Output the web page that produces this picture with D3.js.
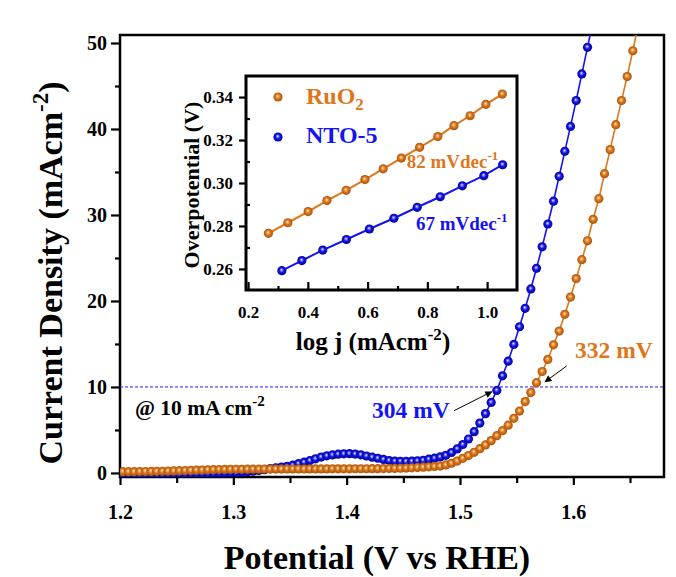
<!DOCTYPE html>
<meta charset="utf-8">
<style>
body { margin: 0; background: #fff; }
text { font-family: "Liberation Serif", "Times New Roman", serif; font-weight: bold; }
.axis path { display: none; }
.axis line { stroke: #000; stroke-width: 2.2; }
.axis text { fill: #000; }
</style>
<body>
<script src="https://d3js.org/d3.v7.min.js"></script>
<script>

// LSV data, potential in V vs RHE, current density in mA cm-2
var potential = [
  1.2025,1.2075,1.2125,1.2175,1.2225,1.2275,1.2325,1.2375,1.2425,1.2475,
  1.2525,1.2575,1.2625,1.2675,1.2725,1.2775,1.2825,1.2875,1.2925,1.2975,
  1.3025,1.3075,1.3125,1.3175,1.3225,1.3275,1.3325,1.3375,1.3425,1.3475,
  1.3525,1.3575,1.3625,1.3675,1.3725,1.3775,1.3825,1.3875,1.3925,1.3975,
  1.4025,1.4075,1.4125,1.4175,1.4225,1.4275,1.4325,1.4375,1.4425,1.4475,
  1.4525,1.4575,1.4625,1.4675,1.4725,1.4775,1.4825,1.4875,1.4925,1.4975,
  1.5025,1.5075,1.5125,1.5175,1.5225,1.5275,1.5325,1.5375,1.5425,1.5475,
  1.5525,1.5575,1.5625,1.5675,1.5725,1.5775,1.5825,1.5875,1.5925,1.5975,
  1.6025,1.6075,1.6125,1.6175,1.6225,1.6275,1.6325,1.6375,1.6425,1.6475,
  1.6525,1.6575
];
var currentRuO2 = [
  0.15,0.15,0.15,0.16,0.17,0.18,0.19,0.20,0.22,0.24,
  0.26,0.28,0.30,0.32,0.34,0.36,0.38,0.40,0.41,0.42,
  0.43,0.43,0.44,0.44,0.44,0.45,0.45,0.45,0.45,0.46,
  0.46,0.46,0.46,0.47,0.47,0.47,0.47,0.48,0.48,0.48,
  0.48,0.49,0.49,0.49,0.50,0.50,0.51,0.52,0.53,0.55,
  0.57,0.60,0.63,0.67,0.71,0.75,0.80,0.93,1.13,1.38,
  1.70,2.02,2.40,2.82,3.26,3.76,4.33,4.92,5.56,6.35,
  7.2,8.3,9.35,10.5,11.8,13.2,14.9,16.5,18.45,20.45,
  22.6,24.8,27.0,29.5,31.9,34.8,37.6,40.5,43.3,46.1,
  49.1,52.3
];
var currentNTO = [
  -0.20,-0.20,-0.19,-0.19,-0.18,-0.17,-0.16,-0.15,-0.14,-0.13,
  -0.12,-0.11,-0.10,-0.09,-0.07,-0.05,-0.03,-0.01,0.01,0.03,
  0.05,0.08,0.13,0.20,0.30,0.38,0.50,0.60,0.68,0.77,
  0.90,1.08,1.25,1.43,1.64,1.85,1.99,2.10,2.18,2.22,
  2.24,2.20,2.11,1.97,1.84,1.71,1.57,1.44,1.38,1.36,
  1.35,1.37,1.41,1.48,1.60,1.72,1.86,2.05,2.38,2.80,
  3.30,3.95,4.80,5.80,6.90,8.20,9.60,11.3,13.0,14.95,
  17.0,19.15,21.4,23.8,26.3,28.95,31.6,34.5,37.4,40.3,
  43.3,46.4,49.5,52.6
];

// Tafel inset data
var logjRuO2 = [0.268,0.333,0.401,0.464,0.528,0.591,0.652,0.713,0.774,0.835,0.889,0.943,0.996,1.051];
var etaRuO2  = [0.2766,0.2815,0.2867,0.2918,0.2966,0.3016,0.3066,0.3116,0.3166,0.3216,0.3267,0.3313,0.3366,0.3414];
var logjNTO  = [0.313,0.380,0.450,0.529,0.606,0.688,0.766,0.843,0.917,0.989,1.052];
var etaNTO   = [0.2592,0.2639,0.2688,0.2737,0.2786,0.2836,0.2887,0.2936,0.2987,0.3034,0.3085];

var xTicks = [1.2,1.3,1.4,1.5,1.6], xMinor = [1.25,1.35,1.45,1.55,1.65];
var yTicks = [0,10,20,30,40,50], yMinor = [5,15,25,35,45];
var ixTicks = [0.2,0.4,0.6,0.8,1.0], ixMinor = [0.3,0.5,0.7,0.9];
var iyTicks = [0.26,0.28,0.30,0.32,0.34], iyMinor = [0.27,0.29,0.31,0.33];
var refCurrent = 10;

var orange = "#DE761A", blue = "#1414F2";

var width = 676, height = 577;
var svg = d3.select("body").append("svg").attr("width", width).attr("height", height);

var defs = svg.append("defs");
function ball(id, light, base, dark) {
  var g = defs.append("radialGradient").attr("id", id)
      .attr("cx", "50%").attr("cy", "50%").attr("r", "55%").attr("fx", "45%").attr("fy", "40%");
  g.append("stop").attr("offset", "0%").attr("stop-color", "#fff");
  g.append("stop").attr("offset", "18%").attr("stop-color", light);
  g.append("stop").attr("offset", "45%").attr("stop-color", base);
  g.append("stop").attr("offset", "100%").attr("stop-color", dark);
}
ball("ballO", "#F3B574", orange, "#A04E08");
ball("ballB", "#8C8CFF", blue, "#000080");

defs.append("clipPath").attr("id", "plotClip").append("rect")
    .attr("x", 120).attr("y", 35).attr("width", 544).attr("height", 442);

defs.append("marker").attr("id", "arrow").attr("viewBox", "0 0 10 10")
    .attr("refX", 9).attr("refY", 5).attr("markerWidth", 9).attr("markerHeight", 7)
    .attr("markerUnits", "userSpaceOnUse").attr("orient", "auto")
  .append("path").attr("d", "M0,0L10,5L0,10z").attr("fill", "#000");

// main scales
var x = d3.scaleLinear().domain([1.2, 1.68]).range([120, 664]);
var y = d3.scaleLinear().domain([-0.47, 50.93]).range([477, 35]);

// axes
svg.append("g").attr("class", "axis").attr("transform", "translate(0,477)")
   .call(d3.axisBottom(x).tickValues(xMinor).tickSize(6).tickFormat(""));
svg.append("g").attr("class", "axis").attr("transform", "translate(0,477)")
   .call(d3.axisBottom(x).tickValues(xTicks).tickSize(8).tickPadding(20).tickFormat(d3.format(".1f")))
   .selectAll("text").attr("font-size", 20);
svg.append("g").attr("class", "axis").attr("transform", "translate(120,0)")
   .call(d3.axisLeft(y).tickValues(yMinor).tickSize(5).tickFormat(""));
svg.append("g").attr("class", "axis").attr("transform", "translate(120,0)")
   .call(d3.axisLeft(y).tickValues(yTicks).tickSize(9).tickPadding(4).tickFormat(d3.format("d")))
   .selectAll("text").attr("font-size", 20);

svg.append("rect").attr("x", 120).attr("y", 35).attr("width", 544).attr("height", 442)
   .attr("fill", "none").attr("stroke", "#000").attr("stroke-width", 2.5);

// reference line at 10 mA cm-2
svg.append("line").attr("x1", x(1.2)).attr("x2", x(1.68))
   .attr("y1", y(refCurrent)).attr("y2", y(refCurrent))
   .attr("stroke", "#1a1aff").attr("stroke-width", 1).attr("stroke-dasharray", "3,2");

var plot = svg.append("g").attr("clip-path", "url(#plotClip)");
function series(cur, color, grad) {
  var pts = cur.map(function(c, i) { return [potential[i], c]; });
  plot.append("path").datum(pts)
      .attr("fill", "none").attr("stroke", color).attr("stroke-width", 1.6)
      .attr("d", d3.line().x(function(d) { return x(d[0]); }).y(function(d) { return y(d[1]); }));
  plot.append("g").selectAll("circle").data(pts).enter().append("circle")
      .attr("cx", function(d) { return x(d[0]); })
      .attr("cy", function(d) { return y(d[1]); })
      .attr("r", 4.6).attr("fill", "url(#" + grad + ")");
}
series(currentNTO, blue, "ballB");
series(currentRuO2, orange, "ballO");

// annotations
var at = svg.append("text").attr("x", x(1.2132)).attr("y", y(6.74)).attr("font-size", 21.5).attr("fill", "#000");
at.append("tspan").text("@ 10 mA cm");
at.append("tspan").attr("dy", -9).attr("font-size", 15).text("-2");

svg.append("text").attr("x", x(1.4224)).attr("y", y(6.4)).attr("font-size", 23.5).attr("fill", blue).text("304 mV");
svg.append("text").attr("x", x(1.6015)).attr("y", y(13.4)).attr("font-size", 23.5).attr("fill", orange).text("332 mV");

svg.append("line").attr("x1", x(1.4947)).attr("y1", y(7.24)).attr("x2", x(1.528)).attr("y2", y(9.45))
   .attr("stroke", "#000").attr("stroke-width", 1).attr("marker-end", "url(#arrow)");
svg.append("line").attr("x1", x(1.5941)).attr("y1", y(12.44)).attr("x2", x(1.575)).attr("y2", y(10.6))
   .attr("stroke", "#000").attr("stroke-width", 1).attr("marker-end", "url(#arrow)");

// axis titles
svg.append("text").attr("x", 377).attr("y", 569)
   .attr("text-anchor", "middle").attr("font-size", 34).text("Potential (V vs RHE)");

var yt = svg.append("text").attr("transform", "translate(62,273) rotate(-90)")
   .attr("text-anchor", "middle").attr("font-size", 34);
yt.append("tspan").text("Current Density (mAcm");
yt.append("tspan").attr("dy", -14).attr("font-size", 23).text("-2");
yt.append("tspan").attr("dy", 14).text(")");

// inset
var ix = d3.scaleLinear().domain([0.193, 1.1]).range([246, 517]);
var iy = d3.scaleLinear().domain([0.2502, 0.3498]).range([290, 76]);

svg.append("rect").attr("x", 246).attr("y", 76).attr("width", 271).attr("height", 214).attr("fill", "#fff");

svg.append("g").attr("class", "axis").attr("transform", "translate(0,290)")
   .call(d3.axisBottom(ix).tickValues(ixMinor).tickSize(-4).tickFormat(""));
svg.append("g").attr("class", "axis").attr("transform", "translate(0,290)")
   .call(d3.axisBottom(ix).tickValues(ixTicks).tickSize(-8).tickPadding(16).tickFormat(d3.format(".1f")))
   .selectAll("text").attr("font-size", 17);
svg.append("g").attr("class", "axis").attr("transform", "translate(246,0)")
   .call(d3.axisLeft(iy).tickValues(iyMinor).tickSize(-4).tickFormat(""));
svg.append("g").attr("class", "axis").attr("transform", "translate(246,0)")
   .call(d3.axisLeft(iy).tickValues(iyTicks).tickSize(7).tickPadding(6).tickFormat(d3.format(".2f")))
   .selectAll("text").attr("font-size", 17);

svg.append("rect").attr("x", 246).attr("y", 76).attr("width", 271).attr("height", 214)
   .attr("fill", "none").attr("stroke", "#000").attr("stroke-width", 3);

function tafel(lx, ly, color, grad) {
  var pts = lx.map(function(v, i) { return [v, ly[i]]; });
  svg.append("path").datum(pts)
     .attr("fill", "none").attr("stroke", color).attr("stroke-width", 2)
     .attr("d", d3.line().x(function(d) { return ix(d[0]); }).y(function(d) { return iy(d[1]); }));
  svg.append("g").selectAll("circle").data(pts).enter().append("circle")
     .attr("cx", function(d) { return ix(d[0]); })
     .attr("cy", function(d) { return iy(d[1]); })
     .attr("r", 4.6).attr("fill", "url(#" + grad + ")");
}
tafel(logjRuO2, etaRuO2, orange, "ballO");
tafel(logjNTO, etaNTO, blue, "ballB");

var s1 = svg.append("text").attr("x", ix(0.7308)).attr("y", iy(0.3070)).attr("font-size", 19).attr("fill", orange);
s1.append("tspan").text("82 mVdec");
s1.append("tspan").attr("dy", -8).attr("font-size", 13).text("-1");
var s2 = svg.append("text").attr("x", ix(0.762)).attr("y", iy(0.2781)).attr("font-size", 19).attr("fill", blue);
s2.append("tspan").text("67 mVdec");
s2.append("tspan").attr("dy", -8).attr("font-size", 13).text("-1");

// legend
svg.append("circle").attr("cx", 278).attr("cy", 97).attr("r", 4.6).attr("fill", "url(#ballO)");
svg.append("circle").attr("cx", 278).attr("cy", 137).attr("r", 4.6).attr("fill", "url(#ballB)");
var l1 = svg.append("text").attr("x", 306).attr("y", 104).attr("font-size", 24).attr("fill", orange);
l1.append("tspan").text("RuO");
l1.append("tspan").attr("dy", 6).attr("font-size", 17).text("2");
svg.append("text").attr("x", 306).attr("y", 143).attr("font-size", 24).attr("fill", blue).text("NTO-5");

// inset axis titles
var ixt = svg.append("text").attr("x", 373).attr("y", 350).attr("text-anchor", "middle").attr("font-size", 25);
ixt.append("tspan").text("log j (mAcm");
ixt.append("tspan").attr("dy", -10).attr("font-size", 17).text("-2");
ixt.append("tspan").attr("dy", 10).text(")");

svg.append("text").attr("transform", "translate(199,185) rotate(-90)")
   .attr("text-anchor", "middle").attr("font-size", 22).text("Overpotential (V)");

</script>
</body>
